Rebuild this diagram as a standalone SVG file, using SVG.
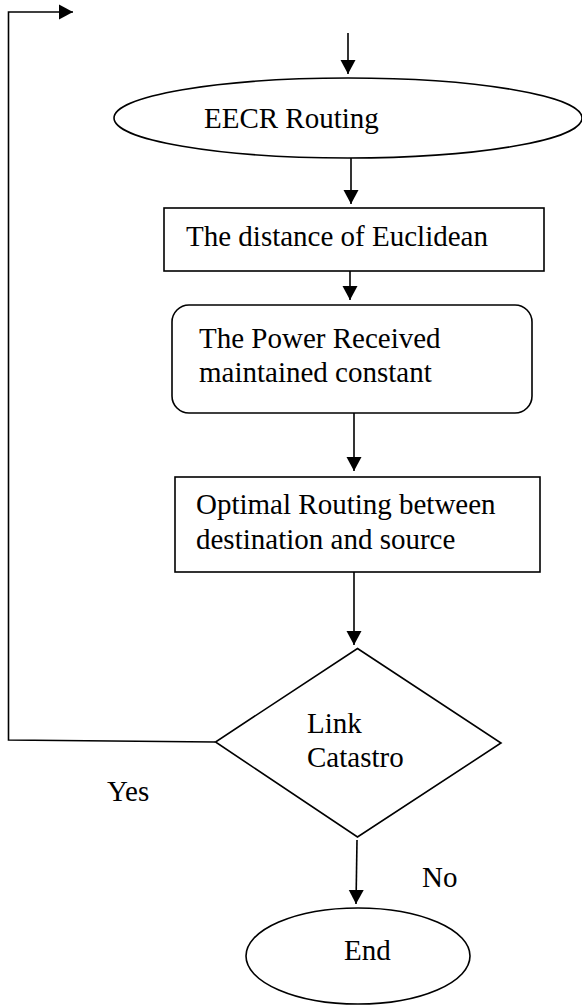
<svg xmlns="http://www.w3.org/2000/svg" width="582" height="1007" viewBox="0 0 582 1007">
<defs>
<marker id="ah" markerWidth="16" markerHeight="16" refX="14" refY="8" orient="auto" markerUnits="userSpaceOnUse">
<path d="M0,0.5 L14,8 L0,15.5 Z" fill="#000"/>
</marker>
</defs>
<style>
.s{fill:#fff;stroke:#000;stroke-width:1.6}
.c{fill:none;stroke:#000;stroke-width:1.6;marker-end:url(#ah)}
text{font-family:"Liberation Serif","Times New Roman",serif;font-size:29px;fill:#000}
</style>
<rect width="582" height="1007" fill="#fff"/>
<g id="connectors">
<path class="c" d="M348,33 L348,74"/>
<path class="c" d="M351,158 L351,204"/>
<path class="c" d="M350,271 L350,300"/>
<path class="c" d="M354,413 L354,471"/>
<path class="c" d="M354,572 L354,645"/>
<path class="c" d="M357,840 L356,904"/>
<path class="c" d="M215,742 L8.5,740 L8.5,12 L73,12"/>
</g>
<g id="n-eecr">
<ellipse class="s" cx="348" cy="118" rx="234" ry="40"/>
<text x="204" y="128">EECR Routing</text>
</g>
<g id="n-euclid">
<rect class="s" x="164" y="208" width="380" height="63"/>
<text x="186" y="246">The distance of Euclidean</text>
</g>
<g id="n-power">
<rect class="s" x="172" y="305" width="360" height="108" rx="17" ry="17"/>
<text x="199" y="348">The Power Received</text>
<text x="199" y="382">maintained constant</text>
</g>
<g id="n-optimal">
<rect class="s" x="175" y="477" width="365" height="95"/>
<text x="196" y="514">Optimal Routing between</text>
<text x="196" y="549">destination and source</text>
</g>
<g id="n-link">
<polygon class="s" points="357.5,648.5 501,743 357.5,837 215.5,742"/>
<text x="307" y="733">Link</text>
<text x="307" y="767">Catastro</text>
</g>
<g id="lbl-yes"><text x="107" y="801">Yes</text></g>
<g id="lbl-no"><text x="422" y="887">No</text></g>
<g id="n-end">
<ellipse class="s" cx="358" cy="956" rx="112" ry="48"/>
<text x="344" y="960">End</text>
</g>
</svg>
